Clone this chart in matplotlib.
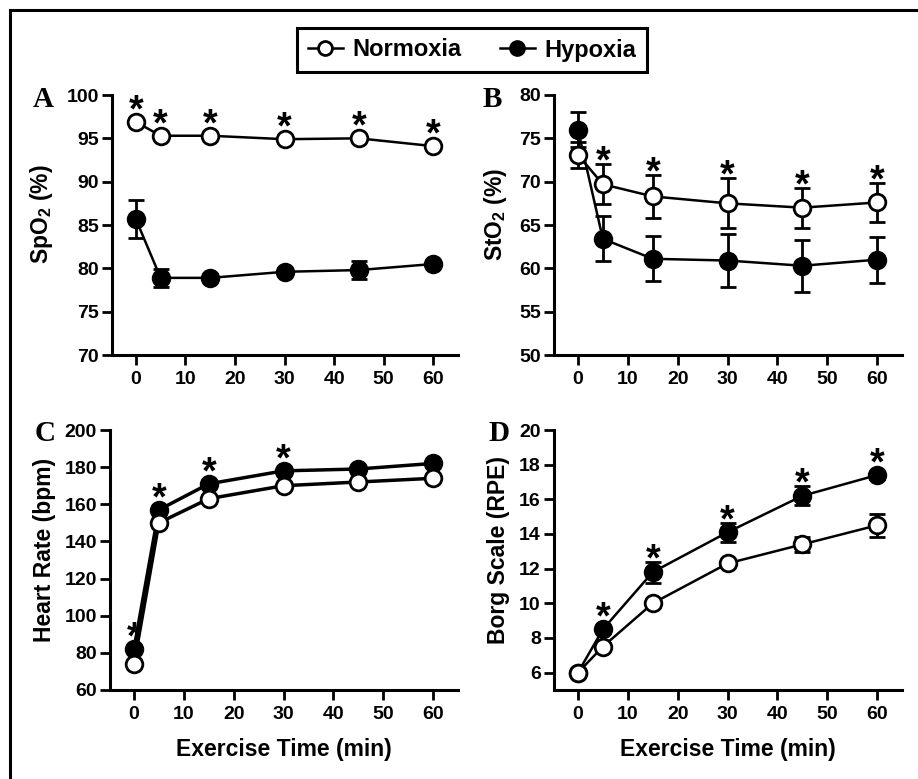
import numpy as np
import matplotlib
matplotlib.use("Agg")
import matplotlib.pyplot as plt
from matplotlib.lines import Line2D

plt.rcParams['font.family'] = ['Liberation Sans', 'DejaVu Sans']
plt.rcParams['font.weight'] = 'bold'
plt.rcParams['mathtext.fontset'] = 'custom'
plt.rcParams['mathtext.rm'] = 'Liberation Sans:bold'
plt.rcParams['mathtext.it'] = 'Liberation Sans:bold'
plt.rcParams['mathtext.bf'] = 'Liberation Sans:bold'

# exercise time points (min)
time = [0, 5, 15, 30, 45, 60]

# A: SpO2 (%)
spo2_norm = [96.9, 95.3, 95.3, 94.9, 95.0, 94.1]
spo2_norm_err = [0.3, 0.3, 0.3, 0.3, 0.3, 0.3]
spo2_hyp = [85.7, 78.9, 78.9, 79.6, 79.8, 80.5]
spo2_hyp_err = [2.2, 1.0, 0.4, 0.4, 1.0, 0.4]
spo2_sig = [1, 1, 1, 1, 1, 1]

# B: StO2 (%)
sto2_norm = [73.1, 69.7, 68.3, 67.5, 67.0, 67.6]
sto2_norm_err = [1.5, 2.3, 2.5, 2.9, 2.3, 2.2]
sto2_hyp = [76.0, 63.4, 61.1, 60.9, 60.3, 61.0]
sto2_hyp_err = [2.0, 2.6, 2.6, 3.1, 3.0, 2.65]
sto2_sig = [0, 1, 1, 1, 1, 1]

# C: heart rate (bpm)
hr_norm = [74, 150, 163, 170, 172, 174]
hr_norm_err = [1, 1, 1, 1, 1, 1]
hr_hyp = [82, 157, 171, 178, 179, 182]
hr_hyp_err = [1, 1, 1, 1, 1, 1]
hr_sig = [1, 1, 1, 1, 0, 0]

# D: Borg scale (RPE)
rpe_norm = [6.0, 7.5, 10.0, 12.3, 13.4, 14.5]
rpe_norm_err = [0.1, 0.2, 0.2, 0.2, 0.45, 0.65]
rpe_hyp = [6.0, 8.5, 11.8, 14.1, 16.2, 17.4]
rpe_hyp_err = [0.1, 0.2, 0.6, 0.55, 0.55, 0.2]
rpe_sig = [0, 1, 1, 1, 1, 1]

W, H = 918, 779
fig = plt.figure(figsize=(W / 100, H / 100), dpi=100)


def px_box(left, top, right, bottom):
    return [left / W, 1 - bottom / H, (right - left) / W, (bottom - top) / H]


panels = [
    dict(box=px_box(112, 95, 458, 355), letter='A', lpos=(33, 107),
         norm=spo2_norm, nerr=spo2_norm_err, hyp=spo2_hyp, herr=spo2_hyp_err,
         sig=spo2_sig, star_on='norm', ylim=(70, 100), yticks=np.arange(70, 101, 5),
         ylabel='SpO$_2$ (%)', lab_x=-0.165, xlabel=False, lw=1.8),
    dict(box=px_box(554, 95, 902, 355), letter='B', lpos=(483, 107),
         norm=sto2_norm, nerr=sto2_norm_err, hyp=sto2_hyp, herr=sto2_hyp_err,
         sig=sto2_sig, star_on='norm', ylim=(50, 80), yticks=np.arange(50, 81, 5),
         ylabel='StO$_2$ (%)', lab_x=-0.13, xlabel=False, lw=1.8),
    dict(box=px_box(110, 430, 458, 690), letter='C', lpos=(35, 441),
         norm=hr_norm, nerr=hr_norm_err, hyp=hr_hyp, herr=hr_hyp_err,
         sig=hr_sig, star_on='hyp', ylim=(60, 200), yticks=np.arange(60, 201, 20),
         ylabel='Heart Rate (bpm)', lab_x=-0.155, xlabel=True, lw=2.5),
    dict(box=px_box(554, 430, 902, 690), letter='D', lpos=(488, 441),
         norm=rpe_norm, nerr=rpe_norm_err, hyp=rpe_hyp, herr=rpe_hyp_err,
         sig=rpe_sig, star_on='hyp', ylim=(5, 20), yticks=np.arange(6, 21, 2),
         ylabel='Borg Scale (RPE)', lab_x=-0.125, xlabel=True, lw=1.8),
]

mk = dict(marker='o', markersize=12, markeredgewidth=2, color='black',
          capsize=6, capthick=2, elinewidth=2)
star_fs = 27

for p in panels:
    ax = fig.add_axes(p['box'])
    ax.errorbar(time, p['hyp'], yerr=p['herr'], markerfacecolor='black',
                linewidth=p['lw'], zorder=3, **mk)
    ax.errorbar(time, p['norm'], yerr=p['nerr'], markerfacecolor='white',
                linewidth=p['lw'], zorder=4, **mk)
    ax.set_xlim(-4.8, 65)
    ax.set_ylim(*p['ylim'])
    ax.set_yticks(p['yticks'])
    ax.set_xticks(range(0, 61, 10))
    for s in ['top', 'right']:
        ax.spines[s].set_visible(False)
    for s in ['left', 'bottom']:
        ax.spines[s].set_linewidth(2.2)
    ax.tick_params(direction='out', length=7.5, width=2, labelsize=14, pad=2)
    for lab in ax.get_xticklabels() + ax.get_yticklabels():
        lab.set_fontweight('bold')
    ax.tick_params(axis='x', pad=4)
    ax.set_ylabel(p['ylabel'], fontsize=16.5, fontweight='bold')
    ax.yaxis.set_label_coords(p['lab_x'], 0.54)
    if p['xlabel']:
        ax.set_xlabel('Exercise Time (min)', fontsize=16.5, fontweight='bold')
        ax.xaxis.set_label_coords(0.5, -0.185)
        ax.xaxis.label.set_va('top')

    # significance asterisks above the chosen series
    vals = p['norm'] if p['star_on'] == 'norm' else p['hyp']
    errs = p['nerr'] if p['star_on'] == 'norm' else p['herr']
    for t, v, e, s in zip(time, vals, errs, p['sig']):
        if not s:
            continue
        y0 = ax.transData.transform((t, v))[1]
        y1 = ax.transData.transform((t, v + e))[1]
        centre_px = max(y1 - y0, 9) + 13
        base_px = centre_px - 0.57 * star_fs * 100 / 72
        ax.annotate('*', xy=(t, v), xytext=(0, base_px * 72 / 100),
                    textcoords='offset points', ha='center', va='baseline',
                    fontsize=star_fs, fontweight='bold', annotation_clip=False)

    fig.text(p['lpos'][0] / W, 1 - p['lpos'][1] / H, p['letter'],
             fontsize=21, fontweight='bold', family=['Liberation Serif', 'DejaVu Serif'],
             ha='left', va='baseline')

# legend
h_norm = Line2D([], [], color='black', lw=1.8, marker='o', markersize=10,
                markerfacecolor='white', markeredgewidth=2)
h_hyp = Line2D([], [], color='black', lw=1.8, marker='o', markersize=10,
               markerfacecolor='black', markeredgewidth=2)
leg = fig.legend([h_norm, h_hyp], ['Normoxia', 'Hypoxia'], loc='center',
                 bbox_to_anchor=((287 + 657) / 2 / W, 1 - 50 / H), ncol=2,
                 frameon=True, fancybox=False, edgecolor='black', framealpha=1,
                 handlelength=1.5, handletextpad=0.4, columnspacing=1.6,
                 borderpad=0.45, borderaxespad=0,
                 prop=dict(family=['Liberation Sans', 'DejaVu Sans'],
                           weight='bold', size=17))
leg.get_frame().set_linewidth(2.2)

# outer frame (cropped on right and bottom)
fig.add_artist(Line2D([10 / W, 10 / W], [1 - 10 / H, 0], transform=fig.transFigure,
                      color='black', lw=2.2))
fig.add_artist(Line2D([10 / W, 1], [1 - 10 / H, 1 - 10 / H], transform=fig.transFigure,
                      color='black', lw=2.2))

fig.savefig('out.png', dpi=100)
